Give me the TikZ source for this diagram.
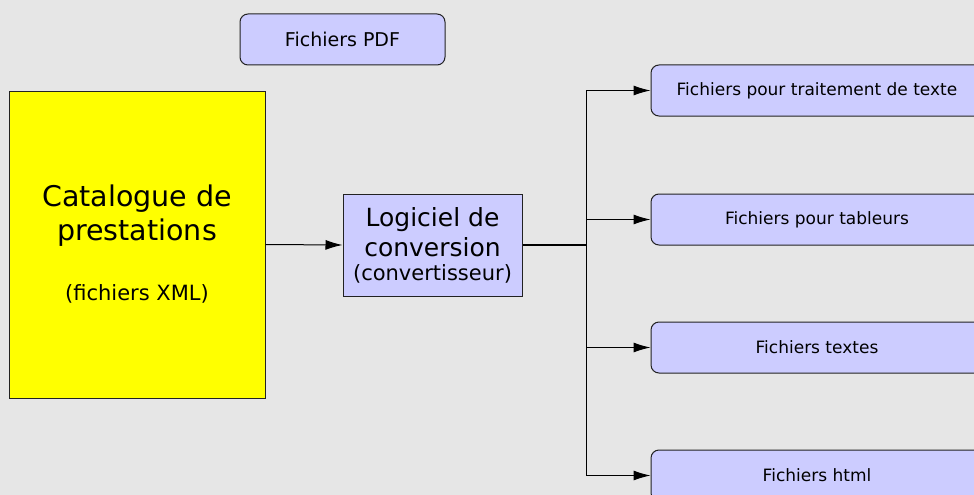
\documentclass[tikz,border=0pt]{standalone}
\usepackage{fontspec}
\setmainfont{DejaVu Sans}
\usetikzlibrary{arrows.meta}
\usetikzlibrary{positioning}

\definecolor{fond}{HTML}{E6E6E6}
\definecolor{lavande}{HTML}{CCCCFF}
\definecolor{jaune}{HTML}{FFFF00}
\definecolor{trait}{HTML}{222222}

\tikzset{
  fichier/.style={draw=trait, fill=lavande, rounded corners=8pt, minimum height=51pt, inner sep=0pt},
  boite/.style={draw=trait, align=center, inner sep=0pt},
  fleche/.style={-{Latex[length=17pt,width=10pt]}, draw=black}
}

\begin{document}
\begin{tikzpicture}[x=1pt,y=-1pt,line width=1pt]
  \useasboundingbox (0,0) rectangle (974,495);
  \clip (0,0) rectangle (974,495);
  \fill[fond] (0,0) rectangle (974,495);

  \node[fichier, minimum width=205pt, font=\fontsize{19}{23}\selectfont] (pdf) at (342.5,39.5) {Fichiers PDF};

  \node[boite, fill=jaune, minimum width=256pt, minimum height=307pt, font=\fontsize{28.5}{34}\selectfont] (catalogue) at (137,244.5)
    {Catalogue de\\prestations\\[26pt]\fontsize{21}{25}\selectfont (fichiers XML)};

  \node[boite, fill=lavande, minimum width=179pt, minimum height=102pt, font=\fontsize{25}{30}\selectfont] (logiciel) at (432.5,245)
    {Logiciel de\\conversion\\[-6pt]\fontsize{21}{24}\selectfont (convertisseur)};

  % sorties
  \node[fichier, minimum width=332pt, font=\fontsize{17}{20}\selectfont] (traitement) at (817,90.5) {Fichiers pour traitement de texte};
  \node[fichier, minimum width=332pt, font=\fontsize{17}{20}\selectfont] (tableurs) at (817,219.5) {Fichiers pour tableurs};
  \node[fichier, minimum width=332pt, font=\fontsize{17}{20}\selectfont] (textes) at (817,347.5) {Fichiers textes};
  \node[fichier, minimum width=332pt, font=\fontsize{17}{20}\selectfont] (html) at (817,475.5) {Fichiers html};

  \coordinate[right=64pt of logiciel.east] (split);

  \draw[fleche] (catalogue.east) -- (logiciel.west);
  \draw[line width=1.8pt] (logiciel.east) -- (split);
  \foreach \n in {traitement,tableurs,textes,html}
    \draw[fleche] (split) |- (\n.west);
\end{tikzpicture}
\end{document}
